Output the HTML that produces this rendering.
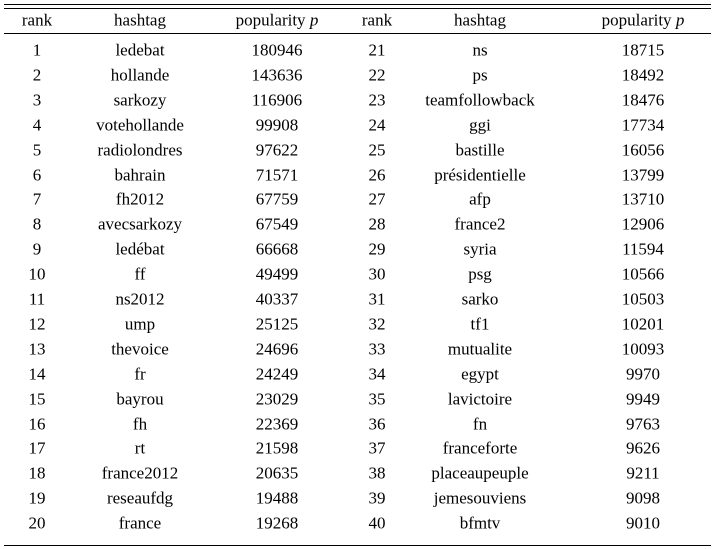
<!DOCTYPE html>
<html><head><meta charset="utf-8"><style>
html,body{margin:0;padding:0;background:#fff;}
#wrap{position:relative;width:715px;height:549px;overflow:hidden;font-family:"Liberation Serif","Noto Serif CJK SC",serif;font-size:17px;color:#000;}
.rule{position:absolute;left:4px;width:707px;background:#000;height:1px;}
.c{position:absolute;transform:translate(-50%,-50%);white-space:nowrap;line-height:1;font-family:"Liberation Serif","Noto Serif CJK SC",serif;}
</style></head><body>
<div id="wrap">
<div class="rule" style="top:4px"></div>
<div class="rule" style="top:8px"></div>
<div class="rule" style="top:33px"></div>
<div class="rule" style="top:545px"></div>
</div>
<script>
const ranks=[1,2,3,4,5,6,7,8,9,10,11,12,13,14,15,16,17,18,19,20,21,22,23,24,25,26,27,28,29,30,31,32,33,34,35,36,37,38,39,40];
const tags=["ledebat","hollande","sarkozy","votehollande","radiolondres","bahrain","fh2012","avecsarkozy","ledébat","ff","ns2012","ump","thevoice","fr","bayrou","fh","rt","france2012","reseaufdg","france","ns","ps","teamfollowback","ggi","bastille","présidentielle","afp","france2","syria","psg","sarko","tf1","mutualite","egypt","lavictoire","fn","franceforte","placeaupeuple","jemesouviens","bfmtv"];
const pops=[180946,143636,116906,99908,97622,71571,67759,67549,66668,49499,40337,25125,24696,24249,23029,22369,21598,20635,19488,19268,18715,18492,18476,17734,16056,13799,13710,12906,11594,10566,10503,10201,10093,9970,9949,9763,9626,9211,9098,9010];
const wrap=document.getElementById('wrap');
const colX=[[37,140,277],[377,480,643]];
function cell(x,y,html,name){
  const d=document.createElement('div');
  d.className='c';
  d.style.left=x+'px';d.style.top=y+'px';
  d.innerHTML=html;
  
  
  wrap.appendChild(d);
}
[0,1].forEach(g=>{
  cell(colX[g][0],20,'rank','header-rank');
  cell(colX[g][1],20,'hashtag','header-hashtag');
  cell(colX[g][2],20,'popularity <i>p</i>','header-popularity');
});
ranks.forEach((r,i)=>{
  const g=i<20?0:1, row=i%20;
  const y=50+row*24.9;
  cell(colX[g][0],y,String(r),'rank-cell');
  cell(colX[g][1],y,tags[i],'hashtag-cell');
  cell(colX[g][2],y,String(pops[i]),'popularity-cell');
});
</script>
</body></html>
